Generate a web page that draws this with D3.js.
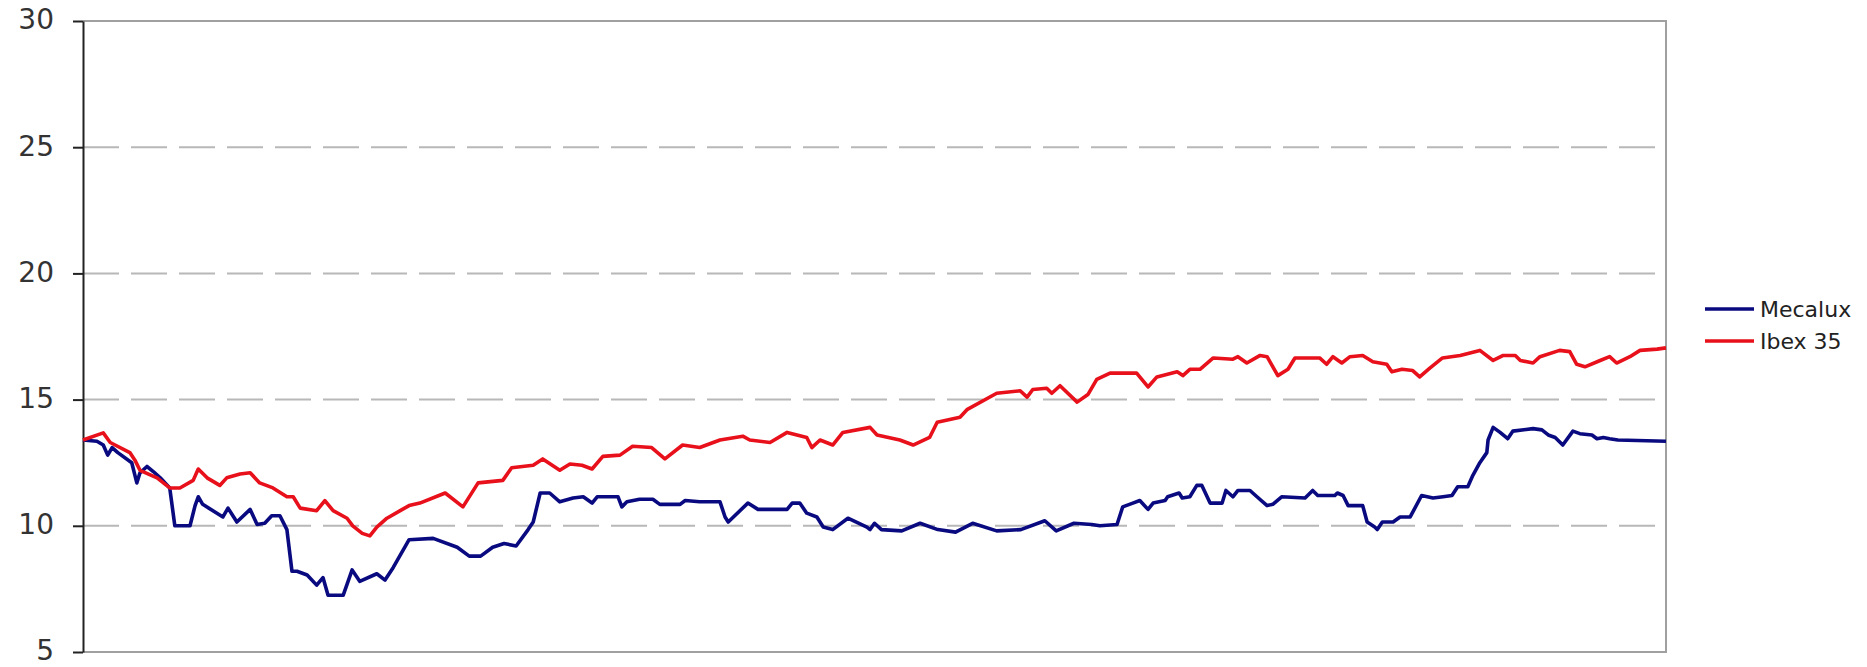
<!DOCTYPE html>
<html>
<head>
<meta charset="utf-8">
<script src="https://cdn.jsdelivr.net/npm/d3@7"></script>
<style>
    body { margin: 0; background: #fff; }
</style>
</head>
<body>
<div id="chart"></div>
<script>
'use strict';

// trading day (0..250) and closing value
var mecaluxDays = [0, 2.2, 3.2, 3.9, 4.6, 5.5, 7.7, 8.5, 9.0, 10.1, 11.1, 12.2, 13.7, 14.5, 16.9, 17.7, 18.2, 18.9,
    22.1, 22.9, 24.3, 26.4, 27.5, 28.7, 29.8, 31.1, 32.2, 33.0, 33.8, 35.4, 36.9, 37.9, 38.7, 41.1, 42.5, 43.7,
    46.4, 47.7, 49.0, 51.5, 55.3, 59.1, 61.0, 62.8, 64.7, 66.5, 68.4, 70.3, 71.1, 72.2, 73.7, 75.3, 77.4, 79.0,
    80.4, 81.2, 84.5, 85.1, 85.9, 87.9, 90.0, 91.1, 94.3, 95.1, 97.4, 100.6, 101.4, 101.9, 105.0, 106.6, 111.2,
    112.0, 113.2, 114.3, 115.9, 116.9, 118.4, 120.8, 123.8, 124.3, 125.0, 126.1, 129.3, 132.2, 135.0, 137.8,
    140.5, 144.3, 148.1, 151.9, 153.7, 156.5, 159.3, 160.6, 163.3, 164.2, 165.8, 166.9, 168.2, 169.0, 170.9,
    171.3, 173.1, 173.6, 174.8, 175.9, 176.7, 178.0, 179.9, 180.5, 181.6, 182.4, 184.3, 185.4, 187.0, 187.9,
    189.3, 193.0, 194.2, 195.0, 197.7, 198.1, 199.0, 199.8, 202.1, 202.8, 204.0, 204.4, 205.2, 206.9, 208.0,
    209.6, 211.4, 213.2, 214.8, 216.2, 217.1, 218.7, 219.5, 220.6, 221.7, 221.9, 222.7, 223.8, 225.0, 225.8,
    229.0, 230.4, 231.4, 232.5, 233.7, 235.3, 236.4, 238.3, 239.1, 240.1, 241.1, 242.4, 250];
var mecaluxValues = [13.4, 13.35, 13.2, 12.8, 13.1, 12.9, 12.5, 11.7, 12.1, 12.35, 12.15, 11.9, 11.5, 10.0, 10.0, 10.8, 11.15, 10.85,
    10.35, 10.7, 10.15, 10.65, 10.05, 10.1, 10.4, 10.4, 9.85, 8.2, 8.2, 8.05, 7.65, 7.95, 7.25, 7.25, 8.25, 7.8,
    8.1, 7.85, 8.35, 9.45, 9.5, 9.15, 8.8, 8.8, 9.15, 9.3, 9.2, 9.85, 10.15, 11.3, 11.3, 10.95, 11.1, 11.15,
    10.9, 11.15, 11.15, 10.75, 10.95, 11.05, 11.05, 10.85, 10.85, 11.0, 10.95, 10.95, 10.35, 10.15, 10.9, 10.65, 10.65,
    10.9, 10.9, 10.5, 10.35, 9.95, 9.85, 10.3, 9.95, 9.85, 10.1, 9.85, 9.8, 10.1, 9.85, 9.75,
    10.1, 9.8, 9.85, 10.2, 9.8, 10.1, 10.05, 10.0, 10.05, 10.75, 10.9, 11.0, 10.65, 10.9, 11.0,
    11.15, 11.3, 11.1, 11.15, 11.6, 11.6, 10.9, 10.9, 11.4, 11.15, 11.4, 11.4, 11.15, 10.8, 10.85,
    11.15, 11.1, 11.4, 11.2, 11.2, 11.3, 11.2, 10.8, 10.8, 10.15, 9.95, 9.85, 10.15, 10.15, 10.35,
    10.35, 11.2, 11.1, 11.15, 11.2, 11.55, 11.55, 12.0, 12.5, 12.9, 13.4, 13.9, 13.7, 13.45, 13.75,
    13.85, 13.8, 13.6, 13.5, 13.2, 13.75, 13.65, 13.6, 13.45, 13.5, 13.45, 13.4, 13.35];

var ibexDays = [0, 3.2, 4.3, 7.4, 8.2, 9.0, 11.7, 13.7, 15.3, 17.4, 18.2, 19.6, 21.6, 22.7, 24.8, 26.4, 27.9, 30.0,
    32.2, 33.2, 34.3, 36.9, 38.2, 39.5, 41.7, 42.6, 44.1, 45.3, 46.4, 48.0, 50.1, 51.5, 53.2, 57.2, 60.0, 62.4,
    66.3, 67.7, 71.1, 72.6, 75.3, 76.9, 78.8, 80.4, 82.1, 84.8, 86.8, 89.8, 91.9, 94.7, 97.4, 100.6, 104.2,
    105.3, 108.5, 111.2, 114.3, 115.1, 116.4, 118.4, 120.0, 124.3, 125.4, 129.0, 131.1, 133.7, 134.9, 138.5,
    139.6, 144.3, 148.0, 149.1, 150.0, 152.2, 153.0, 154.3, 157.0, 158.7, 160.1, 162.2, 166.4, 168.2, 169.6,
    172.8, 173.7, 174.8, 176.4, 178.5, 181.6, 182.4, 183.8, 185.9, 187.0, 188.7, 190.3, 191.4, 195.3, 196.4,
    197.4, 198.8, 200.1, 202.1, 203.7, 205.9, 206.7, 208.3, 210.0, 211.1, 212.7, 214.7, 217.5, 220.6, 222.7,
    224.3, 226.2, 227.0, 229.0, 230.1, 233.2, 234.8, 235.9, 237.2, 239.6, 241.1, 242.2, 244.3, 245.9, 248.6, 250];
var ibexValues = [13.4, 13.68, 13.3, 12.9, 12.6, 12.2, 11.9, 11.5, 11.5, 11.8, 12.25, 11.9, 11.6, 11.9, 12.05, 12.1, 11.7, 11.5,
    11.15, 11.15, 10.7, 10.6, 11.0, 10.6, 10.3, 10.0, 9.7, 9.6, 9.95, 10.3, 10.6, 10.8, 10.9, 11.3, 10.75, 11.7,
    11.8, 12.3, 12.4, 12.65, 12.2, 12.45, 12.4, 12.25, 12.75, 12.8, 13.15, 13.1, 12.65, 13.2, 13.1, 13.4, 13.55,
    13.4, 13.3, 13.7, 13.5, 13.1, 13.4, 13.2, 13.7, 13.9, 13.6, 13.4, 13.2, 13.5, 14.1, 14.3,
    14.6, 15.25, 15.35, 15.1, 15.4, 15.45, 15.25, 15.55, 14.9, 15.2, 15.8, 16.05, 16.05, 15.5, 15.9,
    16.1, 15.95, 16.2, 16.2, 16.65, 16.6, 16.7, 16.45, 16.75, 16.7, 15.95, 16.2, 16.65, 16.65, 16.4,
    16.7, 16.45, 16.7, 16.75, 16.5, 16.4, 16.1, 16.2, 16.15, 15.9, 16.25, 16.65, 16.75, 16.95, 16.55,
    16.75, 16.75, 16.55, 16.45, 16.7, 16.95, 16.9, 16.4, 16.3, 16.55, 16.7, 16.45, 16.7, 16.95, 17.0, 17.05];

var yTicks = [5, 10, 15, 20, 25, 30];
var seriesNames = ['Mecalux', 'Ibex 35'];
var seriesColors = ['#0a0a80', '#e8101a'];

var W = 1867, H = 667;
var plotLeft = 83, plotRight = 1666, plotTop = 21, plotBottom = 652;

var svg = d3.select('#chart')
    .append('svg')
    .attr('width', W)
    .attr('height', H);

var xScale = d3.scaleLinear().domain([0, 250]).range([plotLeft, plotRight]);
var yScale = d3.scaleLinear().domain([5, 30]).range([plotBottom, plotTop]);

// dashed grid
svg.append('g')
    .selectAll('line')
    .data(yTicks.filter(function (d) { return d > 5 && d < 30; }))
    .enter()
    .append('line')
    .attr('x1', plotLeft)
    .attr('x2', plotRight)
    .attr('y1', function (d) { return yScale(d); })
    .attr('y2', function (d) { return yScale(d); })
    .attr('stroke', '#b8b8b8')
    .attr('stroke-width', 2)
    .attr('stroke-dasharray', '36,12');

// frame top / right / bottom
svg.append('path')
    .attr('d', 'M' + plotLeft + ',' + plotTop + 'H' + plotRight + 'V' + plotBottom + 'H' + plotLeft)
    .attr('fill', 'none')
    .attr('stroke', '#a0a0a0')
    .attr('stroke-width', 2);

var yAxis = d3.axisLeft(yScale)
    .tickValues(yTicks)
    .tickSize(10)
    .tickSizeOuter(0)
    .tickPadding(19);

var gy = svg.append('g')
    .attr('transform', 'translate(' + plotLeft + ',0)')
    .call(yAxis);
gy.select('.domain').attr('stroke', '#222').attr('stroke-width', 2);
gy.selectAll('.tick line').attr('stroke', '#222').attr('stroke-width', 2);
gy.selectAll('.tick text')
    .attr('font-family', '"DejaVu Sans", Verdana, sans-serif')
    .attr('font-size', '28px')
    .attr('dy', '0.28em')
    .attr('fill', '#333');

var line = d3.line()
    .x(function (d) { return xScale(d[0]); })
    .y(function (d) { return yScale(d[1]); });

function pairs(days, values) {
    return days.map(function (d, i) { return [d, values[i]]; });
}

var series = [pairs(mecaluxDays, mecaluxValues), pairs(ibexDays, ibexValues)];

// red drawn last, over the blue
svg.append('g')
    .selectAll('path')
    .data(series)
    .enter()
    .append('path')
    .attr('d', line)
    .attr('fill', 'none')
    .attr('stroke', function (d, i) { return seriesColors[i]; })
    .attr('stroke-width', 3.6)
    .attr('stroke-linejoin', 'round');

// legend
var legend = svg.append('g')
    .selectAll('g')
    .data(seriesNames)
    .enter()
    .append('g')
    .attr('transform', function (d, i) { return 'translate(1705,' + (309 + i * 32) + ')'; });

legend.append('line')
    .attr('x1', 0)
    .attr('x2', 49)
    .attr('stroke', function (d, i) { return seriesColors[i]; })
    .attr('stroke-width', 3.6);

legend.append('text')
    .attr('x', 55)
    .attr('y', 8)
    .attr('font-family', '"DejaVu Sans", Verdana, sans-serif')
    .attr('font-size', '22px')
    .attr('fill', '#222')
    .text(function (d) { return d; });
</script>
</body>
</html>
